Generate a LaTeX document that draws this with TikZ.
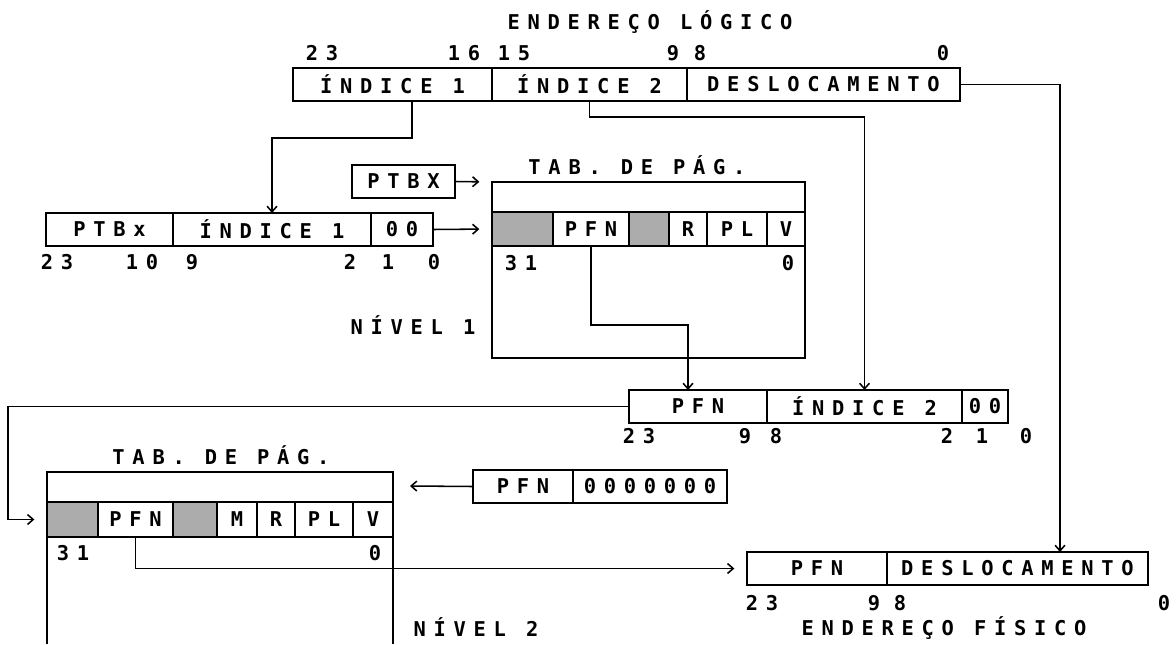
\documentclass[tikz,border=0pt]{standalone}
\usepackage{fontspec}
\setmainfont{DejaVu Sans Mono}[LetterSpace=38]
\usetikzlibrary{positioning, arrows.meta, calc}

\begin{document}
\begin{tikzpicture}[x=0.025cm, y=-0.025cm,
    font=\bfseries\fontsize{14.5}{16}\selectfont,
    cell/.style={rectangle, draw, line width=1.1pt, minimum height=33*0.025cm, inner sep=0pt, outer sep=0pt},
    cw/.style={minimum width=#1*0.025cm},
    rowcell/.style={cell, minimum height=34*0.025cm},
    dotcell/.style={fill=gray!65},
    tabframe/.style={draw, line width=1.1pt, inner sep=0pt, outer sep=0pt},
    heading/.style={inner sep=0pt},
    bitno/.style={inner sep=0pt},
    link/.style={draw, line width=1.1pt, -{Straight Barb[length=4pt,width=7pt]}}]

    \useasboundingbox (0,0) rectangle (1176,644);

    % --- Logical address ---
    \node[heading] (tlog) at (650,22) {ENDEREÇO LÓGICO};
    \node[cell, cw=199, anchor=north west] (li1) at (293,68) {ÍNDICE 1};
    \node[cell, cw=195, right=0pt of li1] (li2) {ÍNDICE 2};
    \node[cell, cw=273, right=0pt of li2] (ldes) {DESLOCAMENTO};
    \foreach \x/\b in {322/23, 464/16, 514/15, 673/9, 700/8, 943/0}
        \node[bitno] (lb-\b) at (\x,53) {\b};

    % --- PTBx + Indice 1 ---
    \node[cell, cw=127, anchor=north west] (xptb) at (46,213) {PTBx};
    \node[cell, cw=198, right=0pt of xptb] (xi1) {ÍNDICE 1};
    \node[cell, cw=62, right=0pt of xi1] (xzz) {00};
    \foreach \x/\b in {57/23, 142/10, 192/9, 350/2, 388/1, 434/0}
        \node[bitno] (xb-\b) at (\x,262) {\b};
    \node[cell, cw=103, anchor=north west] (ptbx) at (352,165) {PTBX};

    % --- Level 1 page table ---
    \node[tabframe, minimum width=313*0.025cm, minimum height=176*0.025cm, anchor=north west] (tab1) at (492,182) {};
    \node[heading] (tab1t) at (637,165) {TAB. DE PÁG.};
    \node[rowcell, dotcell, cw=61, anchor=north west] (a1) at (492,212) {};
    \node[rowcell, cw=76, right=0pt of a1] (a1pfn) {PFN};
    \node[rowcell, dotcell, cw=40, right=0pt of a1pfn] (a1g) {};
    \node[rowcell, cw=38, right=0pt of a1g] (a1r) {R};
    \node[rowcell, cw=60, right=0pt of a1r] (a1pl) {PL};
    \node[rowcell, cw=38, right=0pt of a1pl] (a1v) {V};
    \node[bitno] (a1hi) at (521,263) {31};
    \node[bitno] (a1lo) at (788,263) {0};
    \node[heading] (niv1) at (413,325) {NÍVEL 1};

    % --- PFN + Indice 2 ---
    \node[cell, cw=138, anchor=north west] (spfn) at (629,390) {PFN};
    \node[cell, cw=195, right=0pt of spfn] (si2) {ÍNDICE 2};
    \node[cell, cw=46, right=0pt of si2] (szz) {00};
    \foreach \x/\b in {639/23, 745/9, 776/8, 947/2, 982/1, 1026/0}
        \node[bitno] (sb-\b) at (\x,436) {\b};

    % --- Level 2 page table ---
    \draw[tabframe] (47,644) |- (393,472) -- (393,644);
    \node[heading] (tab2t) at (221,455) {TAB. DE PÁG.};
    \node[rowcell, dotcell, cw=51, minimum height=35*0.025cm, anchor=north west] (b1) at (47,502) {};
    \node[rowcell, cw=75, minimum height=35*0.025cm, right=0pt of b1] (b1pfn) {PFN};
    \node[rowcell, dotcell, cw=44, minimum height=35*0.025cm, right=0pt of b1pfn] (b1g) {};
    \node[rowcell, cw=40, minimum height=35*0.025cm, right=0pt of b1g] (b1m) {M};
    \node[rowcell, cw=38, minimum height=35*0.025cm, right=0pt of b1m] (b1r) {R};
    \node[rowcell, cw=58, minimum height=35*0.025cm, right=0pt of b1r] (b1pl) {PL};
    \node[rowcell, cw=40, minimum height=35*0.025cm, right=0pt of b1pl] (b1v) {V};
    \node[bitno] (b1hi) at (73,553) {31};
    \node[bitno] (b1lo) at (375,553) {0};
    \node[heading] (niv2) at (476,627) {NÍVEL 2};
    \coordinate (t2in) at (410,486);

    % --- PFN + zeros ---
    \node[cell, cw=100, anchor=north west] (zpfn) at (473,470) {PFN};
    \node[cell, cw=154, right=0pt of zpfn] (zzer) {0000000};

    % --- Physical address ---
    \node[cell, cw=140, anchor=north west] (ppfn) at (747,552) {PFN};
    \node[cell, cw=261, right=0pt of ppfn] (pdes) {DESLOCAMENTO};
    \foreach \x/\b in {762/23, 874/9, 900/8, 1164/0}
        \node[bitno] (pb-\b) at (\x,603) {\b};
    \node[heading] (tfis) at (944,628) {ENDEREÇO FÍSICO};

    % --- Connectors ---
    \draw[link] ($(li1.south)+(19.5,0)$) -- ++(0,37) -| (xi1.north);
    \draw[link] (li2.south) -- ++(0,16) -| (si2.north);
    \draw[link] (ldes.east) -| ($(pdes.north)+(42.5,0)$);
    \draw[link, shorten >=9pt] (ptbx.east) -- (tab1.north west);
    \draw[link, shorten >=9pt] (xzz.east) -- (a1.west);
    \draw[link] (a1pfn.south) -- ++(0,79) -| ($(spfn.north)+(-10,0)$);
    \draw[link, shorten >=9pt] (spfn.west) -- ++(-621,0) |- (b1.west);
    \draw[link] (zpfn.west) -- (t2in);
    \draw[link, shorten >=9pt] (b1pfn.south) |- (ppfn.west);

\end{tikzpicture}
\end{document}
